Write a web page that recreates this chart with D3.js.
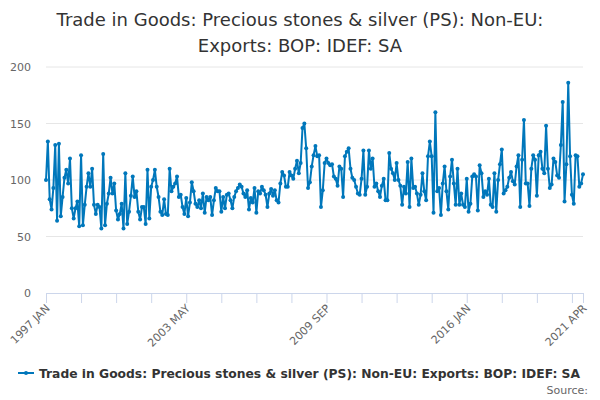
<!DOCTYPE html>
<html>
<head>
<meta charset="utf-8">
<script src="https://cdn.jsdelivr.net/npm/d3@7"></script>
<style>
  body { margin: 0; background: #fff; }
  svg { font-family: "DejaVu Sans", sans-serif; }
</style>
</head>
<body>
<svg width="600" height="400"></svg>
<script>
const titleLines = ["Trade in Goods: Precious stones & silver (PS): Non-EU:", "Exports: BOP: IDEF: SA"];
const seriesName = "Trade in Goods: Precious stones & silver (PS): Non-EU: Exports: BOP: IDEF: SA";
const monthNames = ["JAN", "FEB", "MAR", "APR", "MAY", "JUN", "JUL", "AUG", "SEP", "OCT", "NOV", "DEC"];
const startYear = 1997;

// monthly values, 1997 JAN .. 2021 APR
const values = [
    100, 134, 83, 74, 93, 131, 64, 132, 68, 85, 102, 109, 97, 119, 75, 66, 75, 81, 59, 122,
    60, 78, 94, 106, 94, 110, 78, 70, 78, 76, 57, 123, 60, 79, 88, 102, 88, 97, 73, 65, 70,
    79, 57, 106, 61, 72, 86, 103, 85, 90, 72, 65, 76, 76, 61, 109, 66, 94, 100, 109, 94,
    85, 72, 69, 83, 70, 69, 110, 90, 94, 97, 103, 85, 87, 76, 70, 84, 68, 80, 98, 90, 79,
    76, 82, 75, 88, 71, 85, 82, 85, 69, 82, 93, 90, 90, 72, 85, 75, 87, 88, 82, 75,
    85, 90, 93, 96, 94, 88, 85, 91, 74, 84, 80, 93, 71, 90, 88, 94, 91, 87, 76, 88,
    92, 86, 91, 82, 80, 97, 107, 104, 94, 94, 107, 104, 101, 110, 117, 106, 115, 146, 150, 128,
    93, 98, 112, 122, 130, 121, 122, 76, 91, 115, 119, 115, 113, 114, 103, 101, 95, 112, 110, 85,
    121, 125, 128, 110, 102, 100, 94, 88, 87, 101, 126, 87, 94, 126, 110, 119, 94, 97, 90, 85,
    95, 101, 82, 82, 124, 110, 106, 100, 115, 100, 95, 78, 94, 88, 116, 76, 119, 93, 94, 88, 78,
    87, 106, 90, 82, 121, 134, 121, 71, 160, 90, 93, 69, 97, 112, 90, 74, 103, 118, 97, 78,
    110, 78, 88, 78, 76, 101, 72, 79, 103, 105, 103, 73, 113, 106, 85, 90, 87, 101, 78, 76, 106,
    72, 100, 114, 127, 88, 91, 94, 102, 107, 99, 96, 112, 122, 76, 118, 153, 97, 97, 77, 110,
    122, 118, 86, 122, 125, 110, 106, 148, 110, 93, 96, 119, 116, 104, 102, 131, 169, 81, 114, 186,
    121, 87, 79, 122, 121, 94, 97, 105
];

const categories = values.map((v, i) => `${startYear + Math.floor(i / 12)} ${monthNames[i % 12]}`);
const labelledTicks = ["1997 JAN", "2003 MAY", "2009 SEP", "2016 JAN", "2021 APR"];
const yTicks = [0, 50, 100, 150, 200];

const svg = d3.select("svg");
const margin = { top: 67, right: 17, bottom: 107, left: 46 };
const innerWidth = 600 - margin.left - margin.right;
const innerHeight = 400 - margin.top - margin.bottom;
const color = "#0077bb";

const g = svg.append("g")
    .attr("transform", `translate(${margin.left},${margin.top})`);

const xScale = d3.scalePoint()
    .domain(categories)
    .range([0, innerWidth]);

const yScale = d3.scaleLinear()
    .domain([0, 200])
    .range([innerHeight, 0]);

// gridlines + y labels
g.append("g")
    .selectAll("line")
    .data(yTicks.filter(d => d > 0))
    .enter()
    .append("line")
    .attr("x1", 0)
    .attr("x2", innerWidth)
    .attr("y1", d => yScale(d))
    .attr("y2", d => yScale(d))
    .attr("stroke", "#e6e6e6");

g.append("g")
    .selectAll("text")
    .data(yTicks)
    .enter()
    .append("text")
    .attr("x", -15)
    .attr("y", d => yScale(d) + 4)
    .attr("text-anchor", "end")
    .attr("font-size", 11)
    .attr("fill", "#666")
    .text(d => d);

// x axis: a tick every 19 months plus the last one
const tickCats = categories.filter((c, i) => i % 19 === 0);
tickCats.push(categories[categories.length - 1]);

const xAxis = d3.axisBottom(xScale)
    .tickValues(tickCats)
    .tickSize(10)
    .tickFormat(d => labelledTicks.includes(d) ? d : "");

const xg = g.append("g")
    .attr("transform", `translate(0,${innerHeight})`)
    .call(xAxis);

xg.select(".domain").attr("stroke", "#ccd6eb");
xg.selectAll(".tick line").attr("stroke", "#ccd6eb");
xg.selectAll(".tick text")
    .filter(d => !labelledTicks.includes(d))
    .remove();
xg.selectAll(".tick text")
    .attr("fill", "#666")
    .attr("font-size", 11)
    .attr("font-family", "DejaVu Sans, sans-serif")
    .attr("text-anchor", "end")
    .attr("dy", null)
    .attr("y", 0)
    .attr("transform", "translate(4,16) rotate(-45)");

// series
const line = d3.line()
    .x((d, i) => xScale(categories[i]))
    .y(d => yScale(d));

g.append("path")
    .datum(values)
    .attr("fill", "none")
    .attr("stroke", color)
    .attr("stroke-width", 2)
    .attr("stroke-linejoin", "round")
    .attr("d", line);

g.selectAll(".dot")
    .data(values)
    .enter()
    .append("circle")
    .attr("class", "dot")
    .attr("cx", (d, i) => xScale(categories[i]))
    .attr("cy", d => yScale(d))
    .attr("r", 2)
    .attr("fill", color);

// title
svg.append("text")
    .attr("x", 300)
    .attr("y", 26)
    .attr("text-anchor", "middle")
    .attr("font-size", 18)
    .attr("fill", "#333")
    .selectAll("tspan")
    .data(titleLines)
    .enter()
    .append("tspan")
    .attr("x", 300)
    .attr("dy", (d, i) => i === 0 ? 0 : 26)
    .text(d => d);

// legend
const legend = svg.append("g").attr("transform", "translate(18,373)");
legend.append("line")
    .attr("x1", 0).attr("x2", 16)
    .attr("stroke", color)
    .attr("stroke-width", 2);
legend.append("circle")
    .attr("cx", 8)
    .attr("r", 2)
    .attr("fill", color);
legend.append("text")
    .attr("x", 21)
    .attr("y", 5)
    .attr("font-size", 12.3)
    .attr("font-weight", "bold")
    .attr("fill", "#333")
    .text(seriesName);

svg.append("text")
    .attr("x", 588)
    .attr("y", 394)
    .attr("text-anchor", "end")
    .attr("font-size", 11)
    .attr("fill", "#666")
    .text("Source:");
</script>
</body>
</html>
